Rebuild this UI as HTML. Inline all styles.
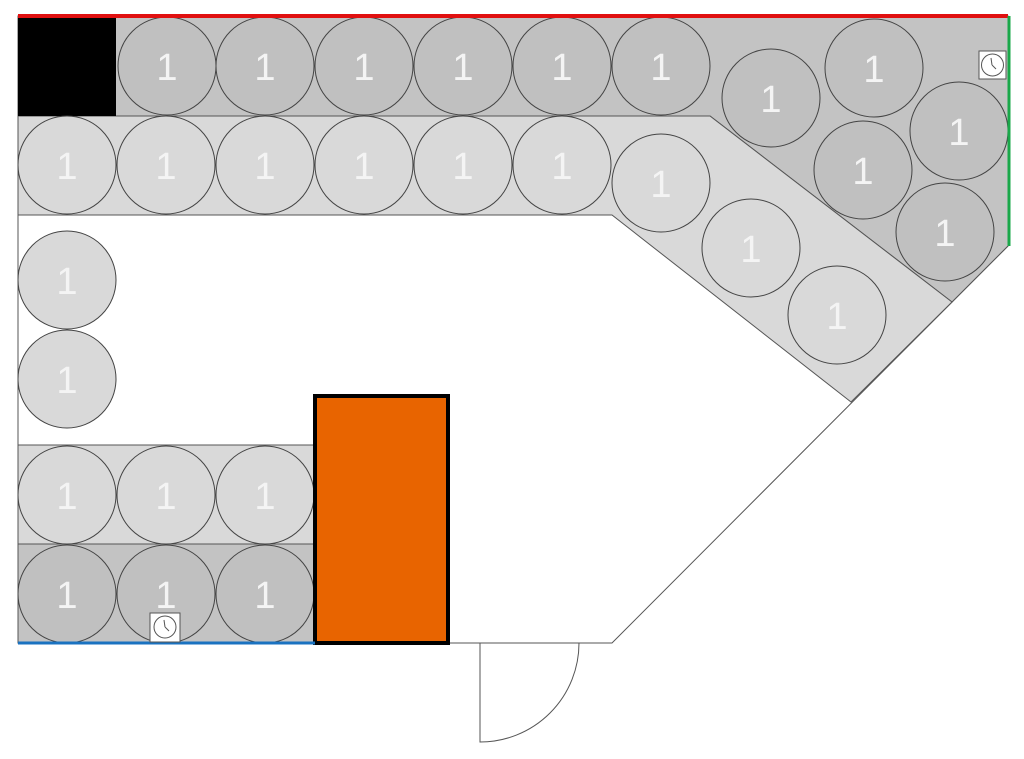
<!DOCTYPE html>
<html><head><style>html,body{margin:0;padding:0;background:#fff}svg{display:block}</style></head>
<body>
<svg width="1024" height="759" viewBox="0 0 1024 759" xmlns="http://www.w3.org/2000/svg">
<polygon points="18,16 1008,16 1008,246 612,643 18,643" fill="#fff" stroke="#555" stroke-width="1"/>
<polygon points="18,16 1008,16 1008,246 952,302 710,116 18,116" fill="#c3c3c3" stroke="#555" stroke-width="1"/>
<polygon points="18,116 710,116 952,302 851,402 612,215 18,215" fill="#d9d9d9" stroke="#555" stroke-width="1"/>
<rect x="18" y="445" width="297" height="99" fill="#d9d9d9" stroke="#555"/>
<rect x="18" y="544" width="297" height="99" fill="#c3c3c3" stroke="#555"/>
<rect x="18" y="16" width="98" height="100" fill="#000"/>
<g stroke="#444" stroke-width="1">
<g fill="#c0c0c0">
<circle cx="167" cy="66" r="49"/><circle cx="265" cy="66" r="49"/><circle cx="364" cy="66" r="49"/><circle cx="463" cy="66" r="49"/><circle cx="562" cy="66" r="49"/><circle cx="661" cy="66" r="49"/>
<circle cx="771" cy="98" r="49"/><circle cx="874" cy="68" r="49"/><circle cx="863" cy="170" r="49"/><circle cx="959" cy="131" r="49"/><circle cx="945" cy="232" r="49"/>
<circle cx="67" cy="594" r="49"/><circle cx="166" cy="594" r="49"/><circle cx="265" cy="594" r="49"/>
</g>
<g fill="#d9d9d9">
<circle cx="67" cy="165" r="49"/><circle cx="166" cy="165" r="49"/><circle cx="265" cy="165" r="49"/><circle cx="364" cy="165" r="49"/><circle cx="463" cy="165" r="49"/><circle cx="562" cy="165" r="49"/>
<circle cx="661" cy="183" r="49"/><circle cx="751" cy="248" r="49"/><circle cx="837" cy="315" r="49"/>
<circle cx="67" cy="280" r="49"/><circle cx="67" cy="379" r="49"/>
<circle cx="67" cy="495" r="49"/><circle cx="166" cy="495" r="49"/><circle cx="265" cy="495" r="49"/>
</g>
</g>
<g font-family="Liberation Sans, sans-serif" font-size="38" fill="#f4f4f4" text-anchor="middle">
<text x="167" y="80">1</text><text x="265" y="80">1</text><text x="364" y="80">1</text><text x="463" y="80">1</text><text x="562" y="80">1</text><text x="661" y="80">1</text>
<text x="771" y="112">1</text><text x="874" y="82">1</text><text x="863" y="184">1</text><text x="959" y="145">1</text><text x="945" y="246">1</text>
<text x="67" y="608">1</text><text x="166" y="608">1</text><text x="265" y="608">1</text>
<text x="67" y="179">1</text><text x="166" y="179">1</text><text x="265" y="179">1</text><text x="364" y="179">1</text><text x="463" y="179">1</text><text x="562" y="179">1</text>
<text x="661" y="197">1</text><text x="751" y="262">1</text><text x="837" y="329">1</text>
<text x="67" y="294">1</text><text x="67" y="393">1</text>
<text x="67" y="509">1</text><text x="166" y="509">1</text><text x="265" y="509">1</text>
</g>
<rect x="315" y="396" width="133" height="247" fill="#e86400" stroke="#000" stroke-width="4"/>
<line x1="18" y1="643" x2="315" y2="643" stroke="#1a72c0" stroke-width="3"/>
<line x1="18" y1="16" x2="1008" y2="16" stroke="#e01010" stroke-width="4"/>
<line x1="1009" y1="16" x2="1009" y2="246" stroke="#1aa84a" stroke-width="3"/>
<path d="M480,643 L480,742 A99,99 0 0 0 579,643" fill="none" stroke="#555"/>
<g stroke="#555" stroke-width="1" fill="#fff">
<rect x="979" y="51" width="27" height="28"/><circle cx="992.5" cy="65" r="11" fill="none"/>
<rect x="150" y="613" width="30" height="29"/><circle cx="165" cy="627" r="11" fill="none"/>
</g>
<g stroke="#555" stroke-width="1"><line x1="992" y1="65" x2="991" y2="58"/><line x1="992" y1="65" x2="996" y2="69"/><line x1="165" y1="627" x2="164" y2="620"/><line x1="165" y1="627" x2="169" y2="631"/></g>
</svg>
</body></html>
